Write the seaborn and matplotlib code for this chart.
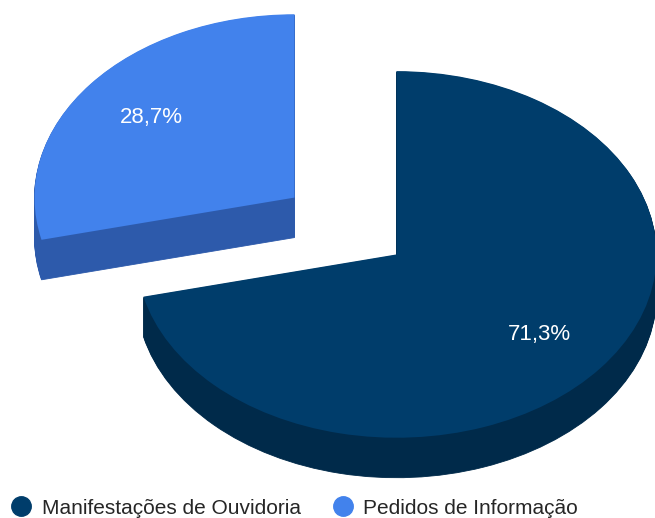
"""
Pizza 3D: Manifestações de Ouvidoria x Pedidos de Informação
"""

import seaborn as sns
import matplotlib
matplotlib.use("Agg")
import matplotlib.pyplot as plt
from matplotlib.lines import Line2D

# dados
categorias = ["Manifestações de Ouvidoria", "Pedidos de Informação"]
valores = [71.3, 28.7]
cores_topo = ["#003d6b", "#4282ec"]
cores_lado = ["#002a4a", "#2d5aab"]

sns.set_theme(style="white")
plt.rcParams["font.family"] = ["Liberation Sans", "DejaVu Sans"]

W, H = 655, 518
achatamento = 0.705  # elipse: altura / largura
raio = 260
profundidade = 40  # px
centro_px = (345.5, 226)
# deslocamento das fatias (em unidades de dados, pie nao escala pelo raio)
explode = [0.25 * raio, 0.25 * raio]

fig = plt.figure(figsize=(W / 100, H / 100), dpi=100)
ax = fig.add_axes([0, 0, 1, 1])

cx = centro_px[0]
cy = (H - centro_px[1]) / achatamento

# lateral: varias camadas deslocadas para baixo
for d in range(profundidade, 0, -1):
    ax.pie(valores, colors=cores_lado, startangle=90, counterclock=False,
           explode=explode, radius=raio, center=(cx, cy - d / achatamento),
           wedgeprops=dict(linewidth=0.6))
    for w, c in zip(ax.patches[-2:], cores_lado):
        w.set_edgecolor(c)

# topo
wedges, _, autotexts = ax.pie(
    valores, colors=cores_topo, startangle=90, counterclock=False,
    explode=explode, radius=raio, center=(cx, cy),
    autopct=lambda p: f"{p:.1f}%".replace(".", ","), pctdistance=0.7,
    wedgeprops=dict(linewidth=0),
    textprops=dict(color="white", fontsize=16),
)

ax.set_aspect("auto")
ax.set_xlim(0, W)
ax.set_ylim(0, H / achatamento)
ax.axis("off")

# legenda
handles = [Line2D([], [], marker="o", linestyle="", markersize=14,
                  markerfacecolor=c, markeredgecolor=c) for c in cores_topo]
fig.legend(handles, categorias, loc="center left", ncol=2, frameon=False,
           bbox_to_anchor=(0.01, 10 / H), fontsize=15, handletextpad=0.5,
           columnspacing=1.5, handlelength=1.0, borderpad=0.2,
           borderaxespad=0)

fig.savefig("out.png", dpi=100)
